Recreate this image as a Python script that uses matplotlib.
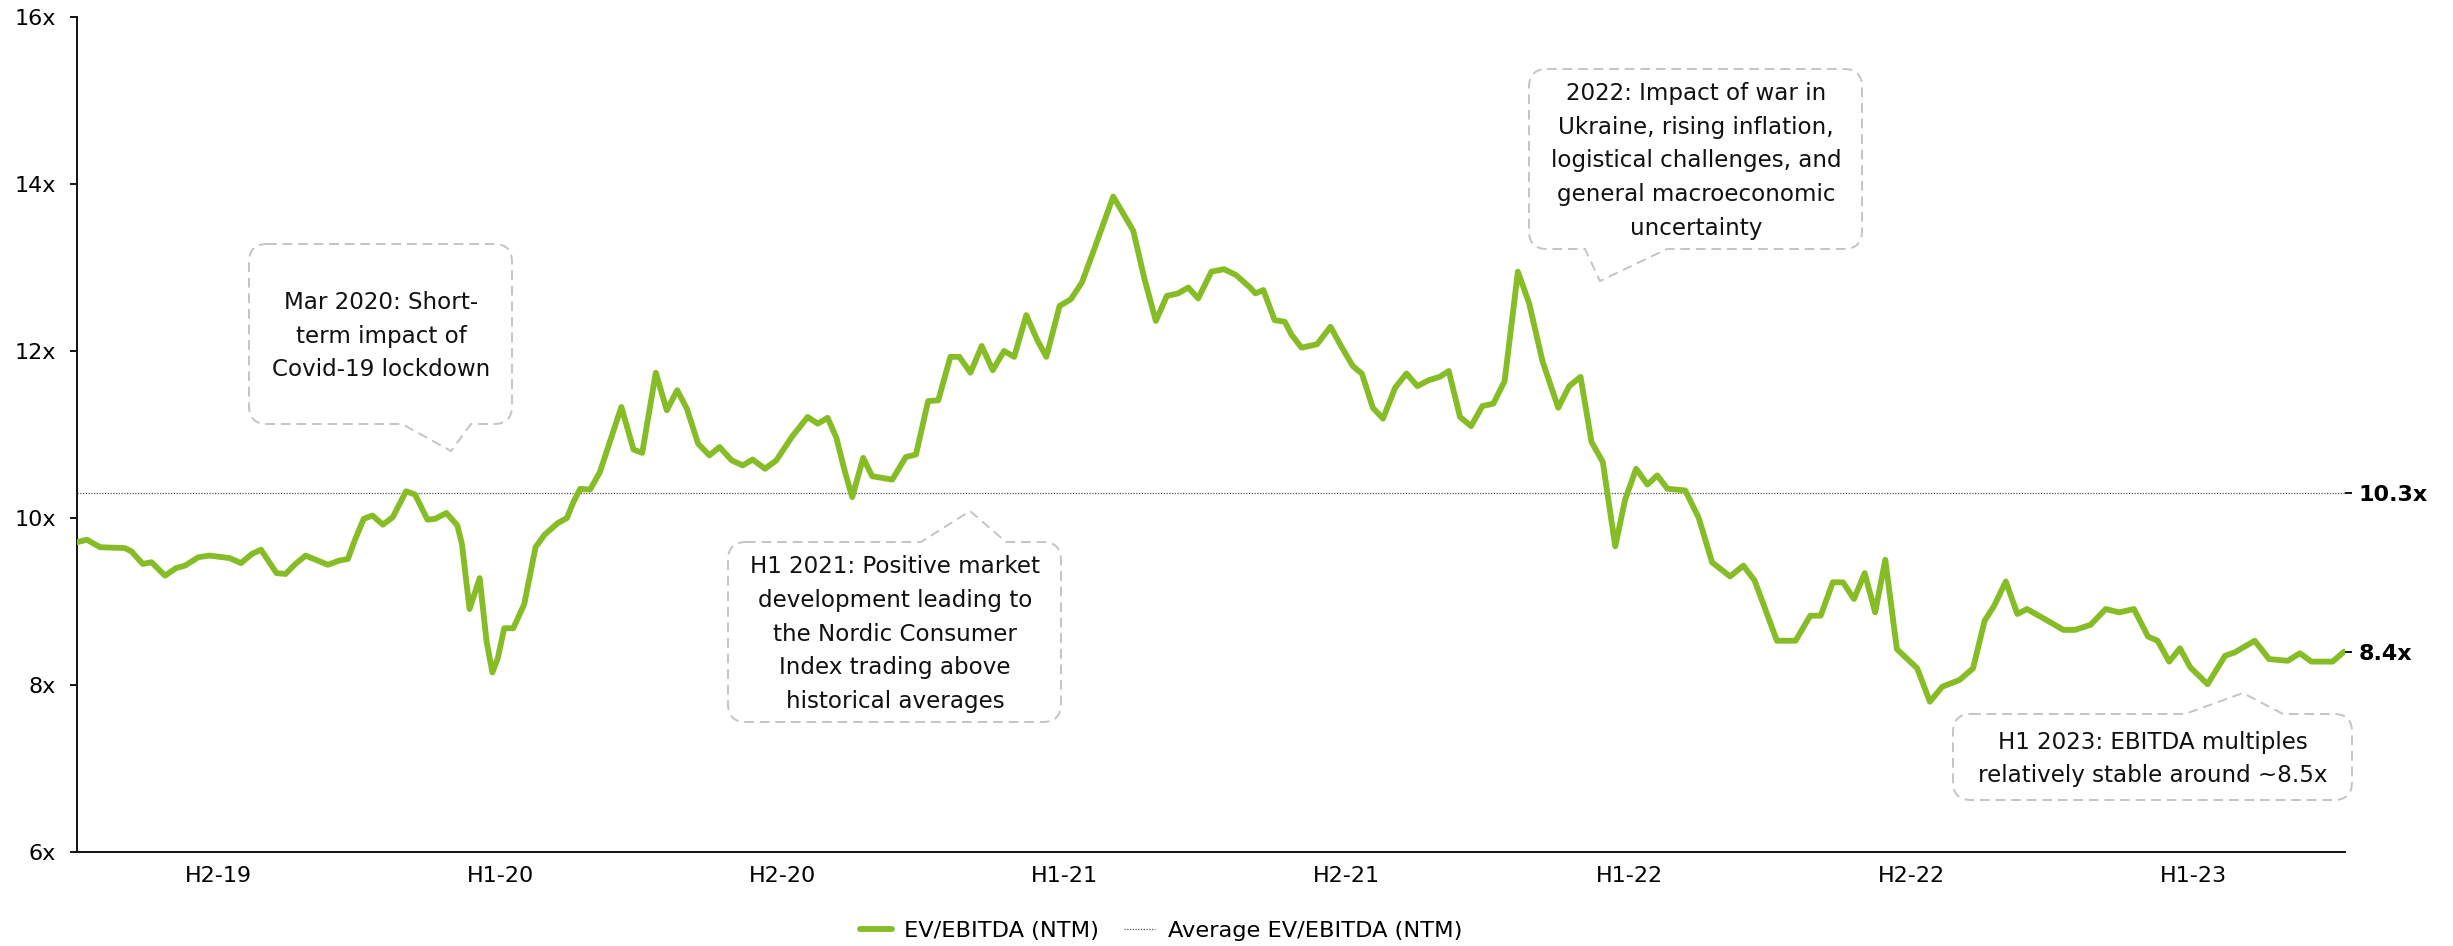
import matplotlib.pyplot as plt
import matplotlib.transforms as mtransforms
from matplotlib.path import Path
from matplotlib.patches import PathPatch
from matplotlib.lines import Line2D

# ---------------------------------------------
# data: NTM EV/EBITDA, x = half-years since 1 Jul 2019
# ---------------------------------------------
half_years = [
    0.000, 0.035, 0.082, 0.169, 0.193, 0.233, 0.264, 0.312, 0.351, 0.383,
    0.430, 0.470, 0.541, 0.581, 0.620, 0.652, 0.707, 0.739, 0.771, 0.810,
    0.889, 0.929, 0.960, 0.984, 1.016, 1.047, 1.084, 1.119, 1.166, 1.198,
    1.242, 1.269, 1.309, 1.348, 1.364, 1.391, 1.427, 1.451, 1.472, 1.491,
    1.514, 1.546, 1.585, 1.625, 1.657, 1.704, 1.736, 1.759, 1.783, 1.818,
    1.853, 1.929, 1.972, 2.003, 2.051, 2.090, 2.127, 2.161, 2.201, 2.241,
    2.277, 2.320, 2.359, 2.394, 2.438, 2.478, 2.533, 2.589, 2.625, 2.660,
    2.691, 2.720, 2.747, 2.786, 2.818, 2.889, 2.937, 2.973, 3.016, 3.052,
    3.095, 3.127, 3.166, 3.206, 3.245, 3.285, 3.321, 3.364, 3.403, 3.435,
    3.482, 3.522, 3.561, 3.609, 3.672, 3.743, 3.783, 3.823, 3.862, 3.902,
    3.938, 3.973, 4.020, 4.065, 4.107, 4.157, 4.176, 4.204, 4.244, 4.280,
    4.303, 4.339, 4.394, 4.442, 4.481, 4.521, 4.553, 4.592, 4.628, 4.671,
    4.711, 4.750, 4.790, 4.829, 4.861, 4.901, 4.940, 4.980, 5.019, 5.059,
    5.106, 5.146, 5.193, 5.249, 5.288, 5.328, 5.367, 5.407, 5.451, 5.486,
    5.525, 5.565, 5.600, 5.636, 5.699, 5.747, 5.794, 5.858, 5.905, 5.945,
    6.024, 6.090, 6.142, 6.179, 6.222, 6.258, 6.297, 6.335, 6.372, 6.408,
    6.449, 6.521, 6.566, 6.610, 6.671, 6.719, 6.760, 6.794, 6.835, 6.876,
    6.910, 6.978, 7.039, 7.080, 7.135, 7.189, 7.237, 7.289, 7.339, 7.373,
    7.414, 7.452, 7.489, 7.550, 7.612, 7.646, 7.717, 7.768, 7.834, 7.877,
    7.918, 7.993, 8.034,
]
ev_ebitda = [
    9.71, 9.74, 9.65, 9.64, 9.60, 9.45, 9.47, 9.31, 9.40, 9.43,
    9.53, 9.55, 9.52, 9.46, 9.57, 9.62, 9.34, 9.33, 9.44, 9.55,
    9.44, 9.49, 9.51, 9.73, 9.99, 10.03, 9.92, 10.01, 10.32, 10.28,
    9.98, 9.99, 10.06, 9.91, 9.69, 8.91, 9.28, 8.53, 8.15, 8.32,
    8.68, 8.68, 8.97, 9.65, 9.80, 9.94, 10.00, 10.19, 10.35, 10.34,
    10.55, 11.33, 10.82, 10.78, 11.74, 11.29, 11.53, 11.31, 10.89, 10.75,
    10.85, 10.69, 10.63, 10.70, 10.59, 10.69, 10.97, 11.21, 11.13, 11.20,
    10.96, 10.57, 10.25, 10.72, 10.50, 10.46, 10.73, 10.76, 11.40, 11.41,
    11.93, 11.93, 11.74, 12.06, 11.77, 12.00, 11.93, 12.43, 12.13, 11.93,
    12.54, 12.62, 12.82, 13.26, 13.85, 13.44, 12.86, 12.36, 12.66, 12.69,
    12.76, 12.63, 12.95, 12.98, 12.91, 12.76, 12.69, 12.73, 12.37, 12.35,
    12.20, 12.04, 12.08, 12.29, 12.05, 11.82, 11.73, 11.32, 11.19, 11.56,
    11.73, 11.58, 11.65, 11.69, 11.76, 11.21, 11.10, 11.34, 11.37, 11.64,
    12.95, 12.57, 11.88, 11.32, 11.58, 11.69, 10.91, 10.67, 9.66, 10.22,
    10.59, 10.40, 10.51, 10.35, 10.33, 10.00, 9.47, 9.30, 9.43, 9.25,
    8.53, 8.53, 8.83, 8.83, 9.23, 9.23, 9.03, 9.34, 8.87, 9.50,
    8.43, 8.20, 7.80, 7.98, 8.06, 8.20, 8.77, 8.95, 9.24, 8.85,
    8.91, 8.78, 8.66, 8.66, 8.72, 8.91, 8.87, 8.91, 8.58, 8.53,
    8.28, 8.44, 8.21, 8.01, 8.35, 8.39, 8.53, 8.31, 8.29, 8.38,
    8.28, 8.28, 8.40,
]
average_multiple = 10.3

period_ticks = [0.5, 1.5, 2.5, 3.5, 4.5, 5.5, 6.5, 7.5]
period_labels = ["H2-19", "H1-20", "H2-20", "H1-21", "H2-21", "H1-22", "H2-22", "H1-23"]
y_ticks = [6, 8, 10, 12, 14, 16]

GREEN = "#86bc25"
BOX_GREY = "#c4c4c4"
plt.rcParams["font.family"] = "DejaVu Sans"

# ---------------------------------------------
# figure
# ---------------------------------------------
W, H = 2453, 946
fig = plt.figure(figsize=(W / 100, H / 100), dpi=100)
ax = fig.add_axes([77 / W, 1 - 852 / H, (2345 - 77) / W, (852 - 17) / H])

ax.plot(half_years, ev_ebitda, color=GREEN, lw=4.2, solid_joinstyle="round",
        solid_capstyle="round", zorder=3)
ax.axhline(average_multiple, color="#555555", lw=0.9, ls=(0, (1, 1.2)), zorder=2)

ax.set_xlim(0, 8.037)
ax.set_ylim(6, 16)
ax.set_xticks(period_ticks, period_labels)
ax.set_yticks(y_ticks, [f"{v}x" for v in y_ticks])
ax.tick_params(axis="x", length=0, pad=10, labelsize=16)
ax.tick_params(axis="y", length=5, width=1.3, pad=10, labelsize=16)
for s in ["top", "right"]:
    ax.spines[s].set_visible(False)
for s in ["left", "bottom"]:
    ax.spines[s].set_linewidth(1.4)
    ax.spines[s].set_color("#111111")

# bold value markers on the right: average and latest multiple
right = ax.secondary_yaxis("right")
right.set_yticks([average_multiple, ev_ebitda[-1]],
                 [f"{average_multiple:.1f}x", f"{ev_ebitda[-1]:.1f}x"])
right.spines["right"].set_visible(False)
right.tick_params(length=5, width=1.3, pad=5, labelsize=16)
for lbl in right.get_yticklabels():
    lbl.set_fontweight("bold")

# ---------------------------------------------
# dashed speech-bubble callouts (pixel coords, y down)
# ---------------------------------------------
px = mtransforms.Affine2D().scale(1 / W, -1 / H).translate(0, 1) + fig.transFigure


def bubble(x0, y0, x1, y1, side, a, tip, b, r=18):
    verts = [(x0 + r, y0)]
    codes = [Path.MOVETO]
    if side == "top":
        verts += [(a, y0), tip, (b, y0)]
        codes += [Path.LINETO] * 3
    verts += [(x1 - r, y0), (x1, y0), (x1, y0 + r)]
    codes += [Path.LINETO, Path.CURVE3, Path.CURVE3]
    verts += [(x1, y1 - r), (x1, y1), (x1 - r, y1)]
    codes += [Path.LINETO, Path.CURVE3, Path.CURVE3]
    if side == "bottom":
        verts += [(b, y1), tip, (a, y1)]
        codes += [Path.LINETO] * 3
    verts += [(x0 + r, y1), (x0, y1), (x0, y1 - r)]
    codes += [Path.LINETO, Path.CURVE3, Path.CURVE3]
    verts += [(x0, y0 + r), (x0, y0), (x0 + r, y0)]
    codes += [Path.LINETO, Path.CURVE3, Path.CURVE3]
    patch = PathPatch(Path(verts, codes), transform=px, fill=False,
                      ec=BOX_GREY, lw=1.4, ls=(0, (5, 3)))
    fig.add_artist(patch)


def note(x, y, text):
    fig.text(x, y, text, transform=px, ha="center", va="center",
             multialignment="center", fontsize=16.6, linespacing=1.6,
             color="#111111")


bubble(249, 244, 512, 424, "bottom", 402, (451, 451), 471)
note(381, 336, "Mar 2020: Short-\nterm impact of\nCovid-19 lockdown")

bubble(728, 542, 1061, 722, "top", 921, (970, 511), 1006)
note(895, 634, "H1 2021: Positive market\ndevelopment leading to\nthe Nordic Consumer\n"
               "Index trading above\nhistorical averages")

bubble(1529, 69, 1862, 249, "bottom", 1585, (1600, 281), 1667)
note(1696, 161, "2022: Impact of war in\nUkraine, rising inflation,\n"
                "logistical challenges, and\ngeneral macroeconomic\nuncertainty")

bubble(1953, 714, 2352, 800, "top", 2185, (2243, 693), 2283)
note(2153, 759, "H1 2023: EBITDA multiples\nrelatively stable around ~8.5x")

# ---------------------------------------------
# legend
# ---------------------------------------------
handles = [
    Line2D([], [], color=GREEN, lw=4.2, solid_capstyle="round"),
    Line2D([], [], color="#555555", lw=0.9, ls=(0, (1, 1.2))),
]
fig.legend(handles, ["EV/EBITDA (NTM)", "Average EV/EBITDA (NTM)"],
           loc="center", bbox_to_anchor=(1161 / W, 1 - 931 / H), ncol=2,
           frameon=False, fontsize=16.2, handlelength=1.4, handletextpad=0.55,
           columnspacing=1.1)

fig.savefig("out.png", dpi=100)
